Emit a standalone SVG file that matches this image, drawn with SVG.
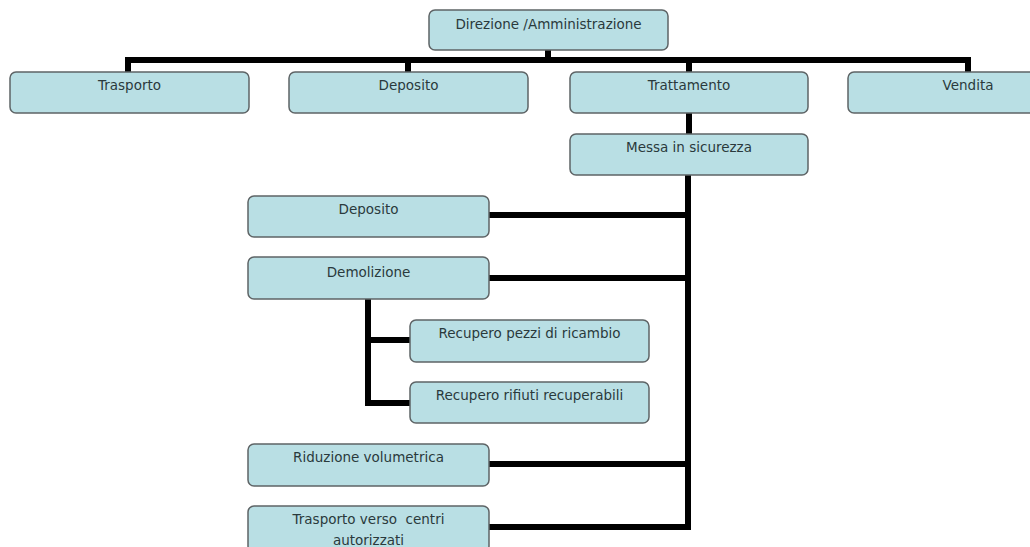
<svg xmlns="http://www.w3.org/2000/svg" width="1030" height="547" viewBox="0 0 1030 547">
<style>
.box{fill:#b9dfe4;stroke:#5e6466;stroke-width:1.5}
.t{font-family:"DejaVu Sans",Verdana,sans-serif;font-size:13.5px;fill:#2a3a3c;text-anchor:middle}
.c{stroke:#000;stroke-width:6;fill:none;stroke-linejoin:miter;stroke-linecap:square}
</style>
<rect width="1030" height="547" fill="#fff"/>
<g id="connectors">
<line class="c" x1="548" y1="50" x2="548" y2="60"/>
<line class="c" x1="128" y1="60" x2="968" y2="60"/>
<line class="c" x1="128" y1="60" x2="128" y2="71"/>
<line class="c" x1="408" y1="60" x2="408" y2="71"/>
<line class="c" x1="689" y1="60" x2="689" y2="71"/>
<line class="c" x1="968" y1="60" x2="968" y2="71"/>
<line class="c" x1="689" y1="114" x2="689" y2="133"/>
<line class="c" x1="688" y1="176" x2="688" y2="527"/>
<line class="c" x1="491" y1="215" x2="688" y2="215"/>
<line class="c" x1="491" y1="278" x2="688" y2="278"/>
<line class="c" x1="491" y1="464" x2="688" y2="464"/>
<line class="c" x1="491" y1="527" x2="688" y2="527"/>
<polyline class="c" points="368,300 368,403 408,403"/>
<line class="c" x1="368" y1="340" x2="408" y2="340"/>
</g>
<g id="n-direzione"><rect class="box" x="429" y="10" width="239" height="40" rx="6"/><text class="t" x="548.5" y="29">Direzione /Amministrazione</text></g>
<g id="n-trasporto"><rect class="box" x="10" y="72" width="239" height="41" rx="6"/><text class="t" x="129.5" y="90">Trasporto</text></g>
<g id="n-deposito"><rect class="box" x="289" y="72" width="239" height="41" rx="6"/><text class="t" x="408.5" y="90">Deposito</text></g>
<g id="n-trattamento"><rect class="box" x="570" y="72" width="238" height="41" rx="6"/><text class="t" x="689" y="90">Trattamento</text></g>
<g id="n-vendita"><rect class="box" x="848" y="72" width="239" height="41" rx="6"/><text class="t" x="968" y="90">Vendita</text></g>
<g id="n-messa"><rect class="box" x="570" y="134" width="238" height="41" rx="6"/><text class="t" x="689" y="152">Messa in sicurezza</text></g>
<g id="n-deposito2"><rect class="box" x="248" y="196" width="241" height="41" rx="6"/><text class="t" x="368.5" y="214">Deposito</text></g>
<g id="n-demolizione"><rect class="box" x="248" y="257" width="241" height="42" rx="6"/><text class="t" x="368.5" y="277">Demolizione</text></g>
<g id="n-pezzi"><rect class="box" x="410" y="320" width="239" height="42" rx="6"/><text class="t" x="529.5" y="338">Recupero pezzi di ricambio</text></g>
<g id="n-rifiuti"><rect class="box" x="410" y="382" width="239" height="41" rx="6"/><text class="t" x="529.5" y="400">Recupero rifiuti recuperabili</text></g>
<g id="n-riduzione"><rect class="box" x="248" y="444" width="241" height="42" rx="6"/><text class="t" x="368.5" y="462">Riduzione volumetrica</text></g>
<g id="n-trasportoverso"><rect class="box" x="248" y="506" width="241" height="46" rx="6"/><text class="t" x="368.5" y="524" xml:space="preserve">Trasporto verso  centri</text><text class="t" x="368.5" y="545">autorizzati</text></g>
</svg>
